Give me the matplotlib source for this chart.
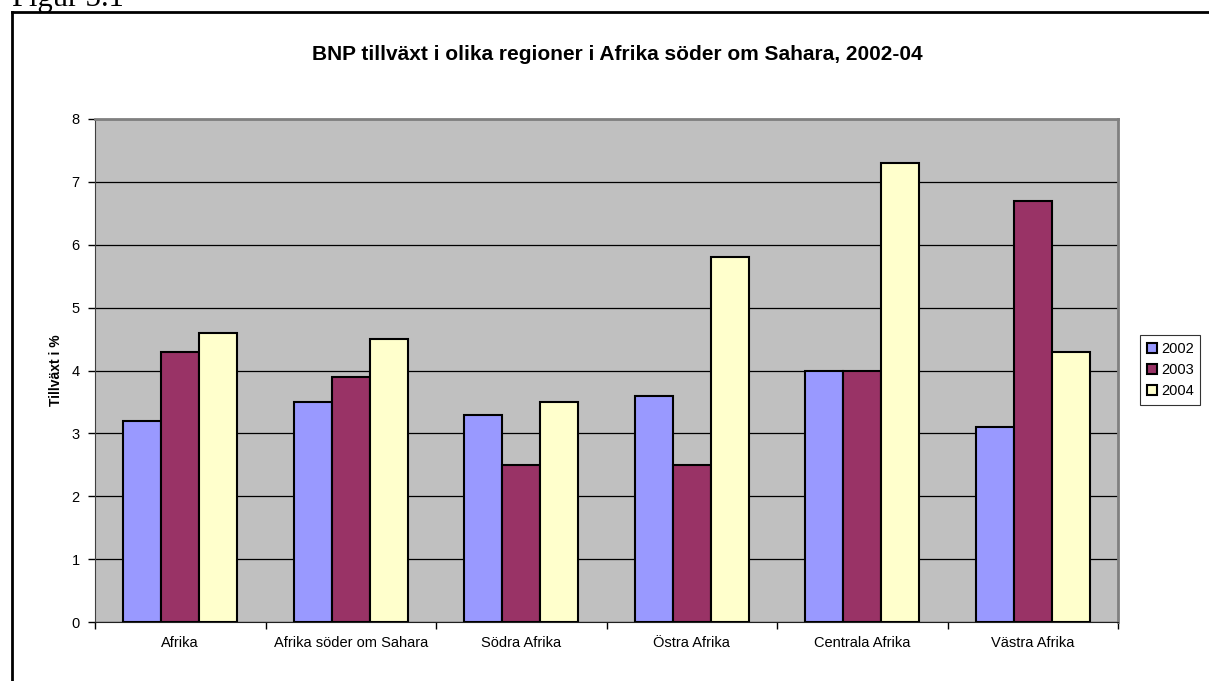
import numpy as np
import matplotlib.pyplot as plt
from matplotlib.lines import Line2D

# data
regions = ["Afrika", "Afrika söder om Sahara", "Södra Afrika",
           "Östra Afrika", "Centrala Afrika", "Västra Afrika"]
years = ["2002", "2003", "2004"]
growth_2002 = [3.2, 3.5, 3.3, 3.6, 4.0, 3.1]
growth_2003 = [4.3, 3.9, 2.5, 2.5, 4.0, 6.7]
growth_2004 = [4.6, 4.5, 3.5, 5.8, 7.3, 4.3]
colors = ["#9999FF", "#993366", "#FFFFCC"]

plt.rcParams['font.family'] = ['Liberation Sans', 'DejaVu Sans']

W, H = 1209, 681
fig = plt.figure(figsize=(W / 100, H / 100), dpi=100)
ax = fig.add_axes([95 / W, 1 - 622 / H, (1118 - 95) / W, (622 - 119) / H])
ax.set_facecolor("#C0C0C0")

x = np.arange(len(regions))
w = 1 / 4.5
series = [growth_2002, growth_2003, growth_2004]
for i, (vals, c, yr) in enumerate(zip(series, colors, years)):
    ax.bar(x + (i - 1) * w, vals, width=w, color=c, edgecolor="black",
           linewidth=1.5, label=yr, zorder=3)

ax.set_xlim(-0.5, len(regions) - 0.5)
ax.set_ylim(0, 8)
ax.set_yticks(range(0, 9))
ax.yaxis.grid(True, color="black", linewidth=0.9, zorder=1)
ax.set_axisbelow(True)

ax.set_xticks(x)
ax.set_xticklabels(regions, fontsize=10.5)
ax.set_xticks(np.arange(-0.5, len(regions)), minor=True)
ax.tick_params(axis="x", which="major", length=0, pad=10)
ax.tick_params(axis="x", which="minor", length=5, width=1, direction="out")
ax.tick_params(axis="y", length=5, width=1, direction="out", labelsize=10.5, pad=6)

for side in ["top", "right"]:
    ax.spines[side].set_color("#808080")
    ax.spines[side].set_linewidth(2)
ax.spines["left"].set_color("#404040")
ax.spines["bottom"].set_color("#202020")

ax.set_ylabel("Tillväxt i %", fontsize=10, fontweight="bold", labelpad=6)

fig.text(617 / W, 1 - 55 / H,
         "BNP tillväxt i olika regioner i Afrika söder om Sahara, 2002-04",
         ha="center", va="center", fontsize=15, fontweight="bold")

leg = ax.legend(loc="center left", bbox_to_anchor=(1140 / W, 1 - 370 / H),
                bbox_transform=fig.transFigure, fontsize=10.5, frameon=True,
                fancybox=False, edgecolor="black", handlelength=0.7,
                handleheight=0.7, handletextpad=0.3, borderpad=0.45,
                labelspacing=0.5, borderaxespad=0)
leg.get_frame().set_linewidth(0.8)

# outer frame and caption
fig.add_artist(Line2D([12 / W, 12 / W], [1 - 12 / H, 0], color="black", linewidth=2))
fig.add_artist(Line2D([12 / W, 1], [1 - 12 / H, 1 - 12 / H], color="black", linewidth=2))
fig.text(12 / W, 1 - 6 / H, "Figur 3.1", family="Liberation Serif",
         fontsize=22, ha="left", va="baseline")

fig.savefig("out.png", dpi=100, facecolor="white")
